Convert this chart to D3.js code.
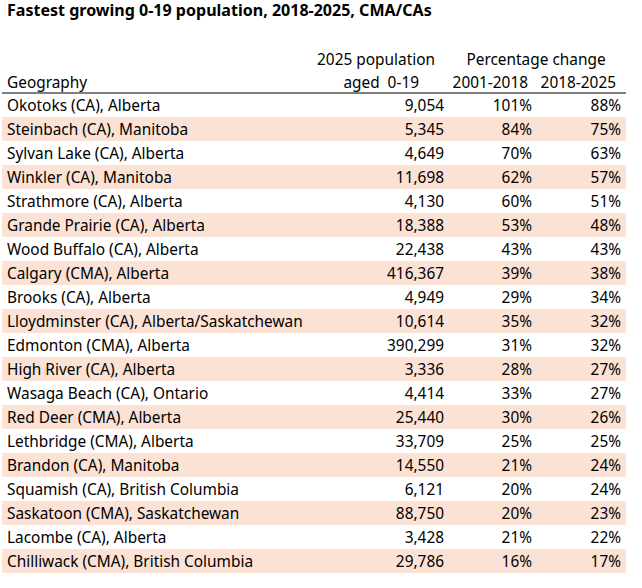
<!DOCTYPE html>
<html>
<head>
<meta charset="utf-8">
<script src="https://cdn.jsdelivr.net/npm/d3@7"></script>
<style>
  html, body { margin: 0; padding: 0; background: #fff; }
  svg { display: block; }
  text { font-family: "Noto Sans", "Liberation Sans", Arial, sans-serif; fill: #000; white-space: pre; }
</style>
</head>
<body>
<svg id="chart" width="642" height="588"></svg>
<script>
const title = "Fastest growing 0-19 population, 2018-2025, CMA/CAs";
const headerGeo = "Geography";
const headerPop = ["2025 population", "aged  0-19"];
const headerPct = "Percentage change";
const periodLabels = ["2001-2018", "2018-2025"];

const geographies = [
  "Okotoks (CA), Alberta",
  "Steinbach (CA), Manitoba",
  "Sylvan Lake (CA), Alberta",
  "Winkler (CA), Manitoba",
  "Strathmore (CA), Alberta",
  "Grande Prairie (CA), Alberta",
  "Wood Buffalo (CA), Alberta",
  "Calgary (CMA), Alberta",
  "Brooks (CA), Alberta",
  "Lloydminster (CA), Alberta/Saskatchewan",
  "Edmonton (CMA), Alberta",
  "High River (CA), Alberta",
  "Wasaga Beach (CA), Ontario",
  "Red Deer (CMA), Alberta",
  "Lethbridge (CMA), Alberta",
  "Brandon (CA), Manitoba",
  "Squamish (CA), British Columbia",
  "Saskatoon (CMA), Saskatchewan",
  "Lacombe (CA), Alberta",
  "Chilliwack (CMA), British Columbia"
];
const pop2025 = [9054, 5345, 4649, 11698, 4130, 18388, 22438, 416367, 4949, 10614,
                 390299, 3336, 4414, 25440, 33709, 14550, 6121, 88750, 3428, 29786];
const pct2001_2018 = [101, 84, 70, 62, 60, 53, 43, 39, 29, 35,
                      31, 28, 33, 30, 25, 21, 20, 20, 21, 16];
const pct2018_2025 = [88, 75, 63, 57, 51, 48, 43, 38, 34, 32,
                      32, 27, 27, 26, 25, 24, 24, 23, 22, 17];

const svg = d3.select("#chart");
const bandFill = "#FBE2D5";

// measure helper: font size that makes a string span a target width
function fitSize(str, weight, targetWidth) {
  const t = svg.append("text").style("font-size", "20px").style("font-weight", weight).text(str);
  const w = t.node().getComputedTextLength();
  t.remove();
  return 20 * targetWidth / w;
}
const fs = Math.min(16, fitSize(geographies[9], "normal", 296));
const titleFs = Math.min(17, fitSize(title, "bold", 425));

// rows positioned with a band scale
const y = d3.scaleBand().domain(geographies).range([93, 573]).paddingInner(0).paddingOuter(0);

// column right edges
const colX = { geo: 7, pop: 444, p1: 532, p2: 621 };

const fmtInt = d3.format(",");
const fmtPct = v => v + "%";

// title
svg.append("text")
  .attr("x", 7).attr("y", 16)
  .style("font-size", titleFs + "px").style("font-weight", "bold")
  .text(title);

// headers
const hdr = svg.append("g").style("font-size", fs + "px");
hdr.append("text").attr("x", 7).attr("y", 88).text(headerGeo);
hdr.append("text").attr("x", 435).attr("y", 65).attr("text-anchor", "end").text(headerPop[0]);
hdr.append("text").attr("x", 419).attr("y", 88).attr("text-anchor", "end").text(headerPop[1]);
hdr.append("text").attr("x", 536).attr("y", 65).attr("text-anchor", "middle").text(headerPct);
hdr.append("text").attr("x", 528).attr("y", 88).attr("text-anchor", "end").text(periodLabels[0]);
hdr.append("text").attr("x", 616).attr("y", 88).attr("text-anchor", "end").text(periodLabels[1]);

// shaded bands
const rows = geographies.map((g, i) => ({
  geo: g, pop: pop2025[i], p1: pct2001_2018[i], p2: pct2018_2025[i], i
}));

svg.append("g").selectAll("rect")
  .data(rows.filter(d => d.i % 2 === 1))
  .join("rect")
  .attr("x", 2)
  .attr("y", d => y(d.geo))
  .attr("width", 624)
  .attr("height", y.bandwidth())
  .attr("fill", bandFill);

// header rule
svg.append("line")
  .attr("x1", 2).attr("x2", 626)
  .attr("y1", y.range()[0]).attr("y2", y.range()[0])
  .attr("stroke", "#000").attr("stroke-width", 1.2);

// cell text
const body = svg.append("g").style("font-size", fs + "px");
const rowG = body.selectAll("g.row").data(rows).join("g")
  .attr("class", "row")
  .attr("transform", d => `translate(0,${y(d.geo) + 17.5})`);

rowG.append("text").attr("x", colX.geo).text(d => d.geo);
rowG.append("text").attr("x", colX.pop).attr("text-anchor", "end").text(d => fmtInt(d.pop));
rowG.append("text").attr("x", colX.p1).attr("text-anchor", "end").text(d => fmtPct(d.p1));
rowG.append("text").attr("x", colX.p2).attr("text-anchor", "end").text(d => fmtPct(d.p2));
</script>
</body>
</html>
